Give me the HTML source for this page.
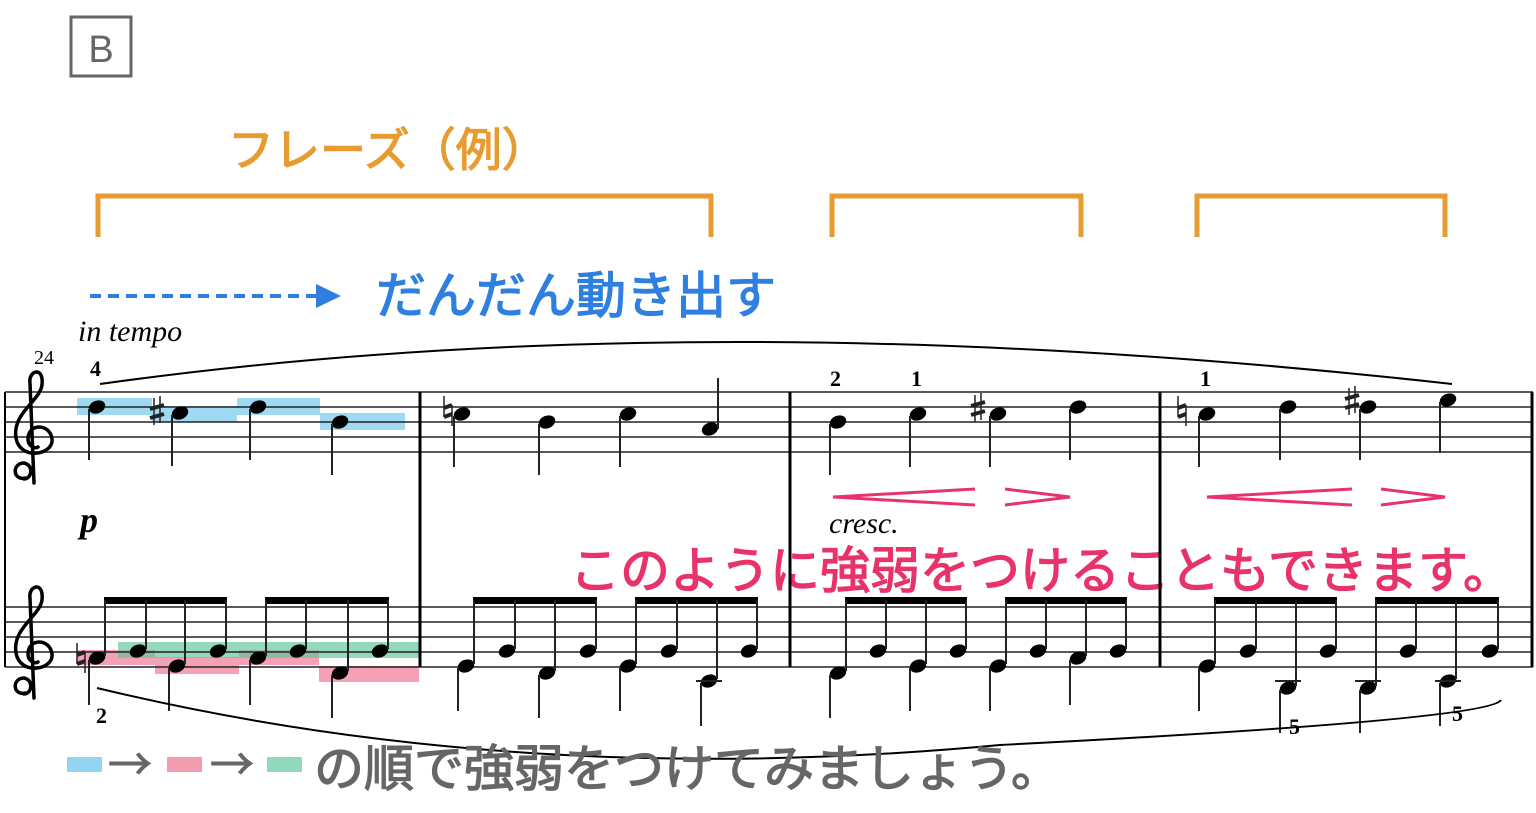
<!DOCTYPE html>
<html><head><meta charset="utf-8"><style>
html,body{margin:0;padding:0;background:#fff;}
svg{display:block;}
.jp{font-family:"Liberation Sans","Noto Sans CJK JP",sans-serif;font-weight:normal;stroke-width:1.3;}
.cj{font-family:"Noto Sans CJK JP",sans-serif;font-weight:normal;}
.sr{font-family:"Liberation Serif",serif;}
</style></head><body>
<svg width="1536" height="813" viewBox="0 0 1536 813" xmlns="http://www.w3.org/2000/svg">
<rect x="71" y="17" width="60" height="59" fill="none" stroke="#666" stroke-width="3"/>
<text x="101" y="62" text-anchor="middle" font-family="Liberation Sans,sans-serif" font-size="38" fill="#666">B</text>
<text x="228" y="166" class="jp" font-size="46" fill="#E89B30" stroke="#E89B30">フレーズ（例）</text>
<g fill="none" stroke="#E89B30" stroke-width="5">
<path d="M98 237V196H711V237"/><path d="M832 237V196H1081V237"/><path d="M1197 237V196H1445V237"/>
</g>
<line x1="90" y1="296" x2="318" y2="296" stroke="#2F7FE0" stroke-width="4" stroke-dasharray="11,7"/>
<path d="M316 284L341 296L316 308Z" fill="#2F7FE0"/>
<text x="376" y="313" class="jp" font-size="50" fill="#2F7FE0" stroke="#2F7FE0">だんだん動き出す</text>
<text x="78" y="341" class="sr" font-style="italic" font-size="30">in tempo</text>
<text x="34" y="364" class="sr" font-size="20">24</text>
<text x="90" y="376" class="sr" font-weight="bold" font-size="22">4</text>
<text x="80" y="532" class="sr" font-weight="bold" font-style="italic" font-size="36">p</text>
<text x="829" y="533" class="sr" font-style="italic" font-size="30">cresc.</text>
<g opacity="0.75" fill="#7FCDEE">
<rect x="77" y="398" width="75" height="17"/>
<rect x="152" y="406" width="85" height="16"/>
<rect x="237" y="398" width="83" height="17"/>
<rect x="320" y="413" width="85" height="17"/>
</g>
<g opacity="0.7" fill="#F07896">
<rect x="77" y="650" width="78" height="15"/>
<rect x="155" y="657" width="84" height="17"/>
<rect x="239" y="650" width="80" height="15"/>
<rect x="319" y="666" width="100" height="16"/>
</g>
<rect x="118" y="642" width="301" height="16" fill="#5CC49A" opacity="0.65"/>
<text x="570" y="588" class="jp" font-size="50" fill="#E8336A" stroke="#E8336A">このように強弱をつけることもできます。</text>
<g stroke="#222" stroke-width="1.6">
<path d="M5 392H1533M5 407H1533M5 422H1533M5 437H1533M5 452H1533M5 607H1533M5 622H1533M5 637H1533M5 652H1533M5 667H1533" fill="none"/>
</g>
<g stroke="#000" stroke-width="3">
<line x1="5" y1="392" x2="5" y2="667" stroke-width="2"/>
<line x1="420" y1="392" x2="420" y2="667"/>
<line x1="790" y1="392" x2="790" y2="667"/>
<line x1="1160" y1="392" x2="1160" y2="667"/>
<line x1="1532" y1="392" x2="1532" y2="667"/>
</g>
<g fill="none" stroke="#000" stroke-width="3.5" stroke-linecap="round">
<path d="M26 478 C12 481 12 463 24 463 C34 465 32 479 24 479 M34 483 L30 383 C28 371 44 365 42 385 C40 401 12 413 16 438 C20 461 54 455 52 439 C50 423 28 423 28 439 C28 447 36 449 38 447"/>
<path d="M26 693 C12 696 12 678 24 678 C34 680 32 694 24 694 M34 698 L30 598 C28 586 44 580 42 600 C40 616 12 628 16 653 C20 676 54 670 52 654 C50 638 28 638 28 654 C28 662 36 664 38 662"/>
</g>
<g fill="#000">
<ellipse cx="97" cy="407" rx="8.5" ry="6.3" transform="rotate(-22 97 407)"/>
<ellipse cx="180" cy="413" rx="8.5" ry="6.3" transform="rotate(-22 180 413)"/>
<ellipse cx="258" cy="407" rx="8.5" ry="6.3" transform="rotate(-22 258 407)"/>
<ellipse cx="340" cy="422" rx="8.5" ry="6.3" transform="rotate(-22 340 422)"/>
<ellipse cx="462" cy="414" rx="8.5" ry="6.3" transform="rotate(-22 462 414)"/>
<ellipse cx="547" cy="422" rx="8.5" ry="6.3" transform="rotate(-22 547 422)"/>
<ellipse cx="628" cy="414" rx="8.5" ry="6.3" transform="rotate(-22 628 414)"/>
<ellipse cx="710" cy="429" rx="8.5" ry="6.3" transform="rotate(-22 710 429)"/>
<ellipse cx="838" cy="422" rx="8.5" ry="6.3" transform="rotate(-22 838 422)"/>
<ellipse cx="918" cy="414" rx="8.5" ry="6.3" transform="rotate(-22 918 414)"/>
<ellipse cx="998" cy="414" rx="8.5" ry="6.3" transform="rotate(-22 998 414)"/>
<ellipse cx="1078" cy="407" rx="8.5" ry="6.3" transform="rotate(-22 1078 407)"/>
<ellipse cx="1207" cy="414" rx="8.5" ry="6.3" transform="rotate(-22 1207 414)"/>
<ellipse cx="1288" cy="407" rx="8.5" ry="6.3" transform="rotate(-22 1288 407)"/>
<ellipse cx="1368" cy="407" rx="8.5" ry="6.3" transform="rotate(-22 1368 407)"/>
<ellipse cx="1448" cy="400" rx="8.5" ry="6.3" transform="rotate(-22 1448 400)"/>
</g>
<path fill="none" stroke="#222" stroke-width="2" d="M89 409V460M172 415V466M250 409V460M332 424V475M454 416V467M539 424V475M620 416V467M718 429V378M830 424V475M910 416V467M990 416V467M1070 409V460M1199 416V467M1280 409V460M1360 409V460M1440 402V453"/>
<g stroke="#222" fill="none">
<path stroke-width="1.5" d="M154 398V425M160 396V423M975 395V422M981 393V420M1349 388V415M1355 386V413M444 396V417M452 405V426M1178 396V417M1186 405V426M77 643V664M85 652V673"/>
<path stroke-width="4" d="M150 409L164 405M150 418L164 414M971 406L985 402M971 415L985 411M1345 399L1359 395M1345 408L1359 404M444 408L452 405M444 417L452 414M1178 408L1186 405M1178 417L1186 414M77 655L85 652M77 664L85 661"/>
</g>
<g fill="#000">
<ellipse cx="97" cy="658" rx="8.5" ry="6.3" transform="rotate(-22 97 658)"/>
<ellipse cx="138" cy="651" rx="8.5" ry="6.3" transform="rotate(-22 138 651)"/>
<ellipse cx="177" cy="666" rx="8.5" ry="6.3" transform="rotate(-22 177 666)"/>
<ellipse cx="218" cy="651" rx="8.5" ry="6.3" transform="rotate(-22 218 651)"/>
<ellipse cx="258" cy="658" rx="8.5" ry="6.3" transform="rotate(-22 258 658)"/>
<ellipse cx="298" cy="651" rx="8.5" ry="6.3" transform="rotate(-22 298 651)"/>
<ellipse cx="340" cy="673" rx="8.5" ry="6.3" transform="rotate(-22 340 673)"/>
<ellipse cx="380" cy="651" rx="8.5" ry="6.3" transform="rotate(-22 380 651)"/>
<ellipse cx="466" cy="666" rx="8.5" ry="6.3" transform="rotate(-22 466 666)"/>
<ellipse cx="507" cy="651" rx="8.5" ry="6.3" transform="rotate(-22 507 651)"/>
<ellipse cx="547" cy="673" rx="8.5" ry="6.3" transform="rotate(-22 547 673)"/>
<ellipse cx="588" cy="651" rx="8.5" ry="6.3" transform="rotate(-22 588 651)"/>
<ellipse cx="628" cy="666" rx="8.5" ry="6.3" transform="rotate(-22 628 666)"/>
<ellipse cx="669" cy="651" rx="8.5" ry="6.3" transform="rotate(-22 669 651)"/>
<ellipse cx="709" cy="681" rx="8.5" ry="6.3" transform="rotate(-22 709 681)"/>
<ellipse cx="749" cy="651" rx="8.5" ry="6.3" transform="rotate(-22 749 651)"/>
<ellipse cx="838" cy="673" rx="8.5" ry="6.3" transform="rotate(-22 838 673)"/>
<ellipse cx="878" cy="651" rx="8.5" ry="6.3" transform="rotate(-22 878 651)"/>
<ellipse cx="918" cy="666" rx="8.5" ry="6.3" transform="rotate(-22 918 666)"/>
<ellipse cx="958" cy="651" rx="8.5" ry="6.3" transform="rotate(-22 958 651)"/>
<ellipse cx="998" cy="666" rx="8.5" ry="6.3" transform="rotate(-22 998 666)"/>
<ellipse cx="1038" cy="651" rx="8.5" ry="6.3" transform="rotate(-22 1038 651)"/>
<ellipse cx="1078" cy="658" rx="8.5" ry="6.3" transform="rotate(-22 1078 658)"/>
<ellipse cx="1118" cy="651" rx="8.5" ry="6.3" transform="rotate(-22 1118 651)"/>
<ellipse cx="1207" cy="666" rx="8.5" ry="6.3" transform="rotate(-22 1207 666)"/>
<ellipse cx="1248" cy="651" rx="8.5" ry="6.3" transform="rotate(-22 1248 651)"/>
<ellipse cx="1288" cy="688" rx="8.5" ry="6.3" transform="rotate(-22 1288 688)"/>
<ellipse cx="1328" cy="651" rx="8.5" ry="6.3" transform="rotate(-22 1328 651)"/>
<ellipse cx="1368" cy="688" rx="8.5" ry="6.3" transform="rotate(-22 1368 688)"/>
<ellipse cx="1408" cy="651" rx="8.5" ry="6.3" transform="rotate(-22 1408 651)"/>
<ellipse cx="1448" cy="681" rx="8.5" ry="6.3" transform="rotate(-22 1448 681)"/>
<ellipse cx="1490" cy="651" rx="8.5" ry="6.3" transform="rotate(-22 1490 651)"/>
<rect x="104" y="597" width="123" height="7"/><rect x="265" y="597" width="124" height="7"/>
<rect x="473" y="597" width="124" height="7"/><rect x="635" y="597" width="123" height="7"/>
<rect x="845" y="597" width="122" height="7"/><rect x="1005" y="597" width="122" height="7"/>
<rect x="1214" y="597" width="123" height="7"/><rect x="1375" y="597" width="124" height="7"/>
</g>
<path fill="none" stroke="#222" stroke-width="2" d="M105 656V600M146 649V600M185 664V600M226 649V600M266 656V600M306 649V600M348 671V600M388 649V600M89 660V705M169 668V711M250 660V705M332 675V718
M474 664V600M515 649V600M555 671V600M596 649V600M636 664V600M677 649V600M717 679V600M757 649V600M458 668V711M539 675V718M620 668V711M701 683V726M696 681H722
M846 671V600M886 649V600M926 664V600M966 649V600M1006 664V600M1046 649V600M1086 656V600M1126 649V600M830 675V718M910 668V711M990 668V711M1070 660V705
M1215 664V600M1256 649V600M1296 686V600M1336 649V600M1376 686V600M1416 649V600M1456 679V600M1498 649V600M1199 668V711M1280 690V733M1360 690V733M1440 683V726M1275 681H1301M1355 681H1381M1435 681H1461"/>
<path d="M100 384Q700 300 1452 384" fill="none" stroke="#000" stroke-width="2"/>
<path d="M97 688Q520 790 1000 745Q1490 720 1501 700" fill="none" stroke="#000" stroke-width="2"/>
<g fill="none" stroke="#E8336A" stroke-width="3">
<path d="M975 489L833 497L975 505"/><path d="M1005 489L1070 497L1005 505"/>
<path d="M1352 489L1207 497L1352 505"/><path d="M1381 489L1445 497L1381 505"/>
</g>
<rect x="67" y="757" width="35" height="15" fill="#92D5F2"/>
<text x="108" y="780" class="cj" font-size="44" fill="#666" stroke="#666" stroke-width="1">→</text>
<rect x="167" y="757" width="35" height="15" fill="#F49BB0"/>
<text x="210" y="780" class="cj" font-size="44" fill="#666" stroke="#666" stroke-width="1">→</text>
<rect x="267" y="757" width="35" height="15" fill="#92D8BC"/>
<text x="314" y="786" class="jp" font-size="50" fill="#666" stroke="#666">の順で強弱をつけてみましょう。</text>
<g class="sr" font-weight="bold" font-size="22">
<text x="96" y="723">2</text><text x="1289" y="734">5</text><text x="1452" y="721">5</text>
<text x="830" y="386">2</text><text x="911" y="386">1</text><text x="1200" y="386">1</text>
</g>
</svg>
</body></html>
